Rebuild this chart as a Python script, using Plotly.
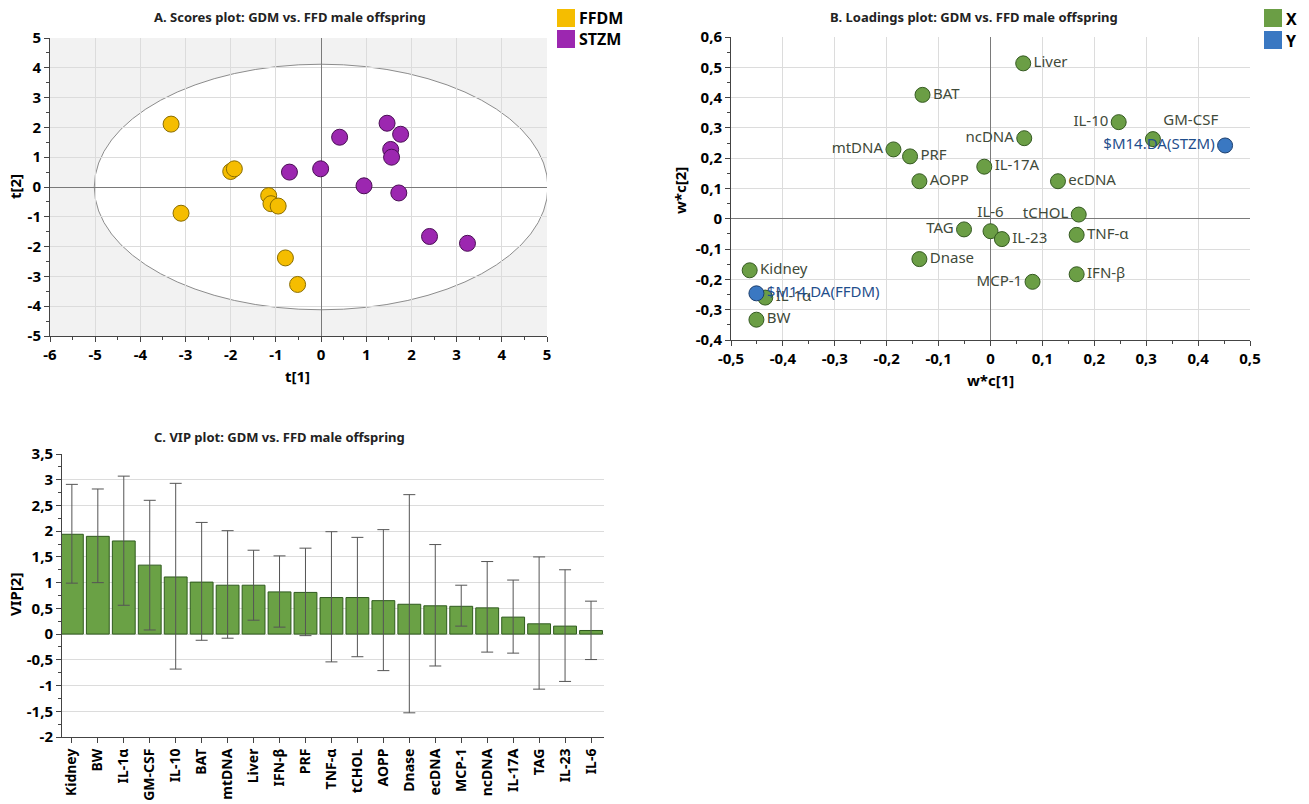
import plotly.graph_objects as go

FONT = "Noto Sans"

# ---------------- Panel A: scores ----------------
ffdm_t1 = [-3.32, -3.10, -2.00, -1.92, -1.16, -1.11, -0.95, -0.79, -0.52]
ffdm_t2 = [2.11, -0.88, 0.52, 0.61, -0.29, -0.56, -0.64, -2.38, -3.27]
stzm_t1 = [-0.70, -0.01, 0.41, 0.95, 1.46, 1.76, 1.54, 1.56, 1.72, 2.40, 3.24]
stzm_t2 = [0.50, 0.61, 1.67, 0.04, 2.14, 1.77, 1.26, 1.00, -0.20, -1.66, -1.89]
ellipse_a = 5.02
ellipse_b = 4.12
a_xticks = [-6, -5, -4, -3, -2, -1, 0, 1, 2, 3, 4, 5]
a_xlabels = ["-6", "-5", "-4", "-3", "-2", "-1", "0", "1", "2", "3", "4", "5"]
a_yticks = [-5, -4, -3, -2, -1, 0, 1, 2, 3, 4, 5]
a_ylabels = ["-5", "-4", "-3", "-2", "-1", "0", "1", "2", "3", "4", "5"]
a_groups = ["FFDM", "STZM"]

# ---------------- Panel B: loadings ----------------
x_names = ["Liver", "BAT", "IL-10", "GM-CSF", "ncDNA", "mtDNA", "PRF", "IL-17A",
           "AOPP", "ecDNA", "tCHOL", "IL-6", "TAG", "IL-23", "TNF-α", "Dnase",
           "Kidney", "IFN-β", "MCP-1", "IL-1α", "BW"]
x_w1 = [0.063, -0.131, 0.247, 0.313, 0.065, -0.187, -0.155, -0.012,
        -0.137, 0.130, 0.170, 0.000, -0.051, 0.022, 0.166, -0.137,
        -0.464, 0.166, 0.081, -0.434, -0.451]
x_w2 = [0.513, 0.409, 0.319, 0.263, 0.266, 0.229, 0.206, 0.172,
        0.124, 0.124, 0.014, -0.041, -0.035, -0.067, -0.053, -0.133,
        -0.170, -0.183, -0.208, -0.260, -0.333]
x_pos = ["middle right", "middle right", "middle left", "top right", "middle left",
         "middle left", "middle right", "middle right", "middle right", "middle right",
         "middle left", "top center", "middle left", "middle right", "middle right",
         "middle right", "middle right", "middle right", "middle left", "middle right",
         "middle right"]
y_names = ["$M14.DA(STZM)", "$M14.DA(FFDM)"]
y_w1 = [0.452, -0.451]
y_w2 = [0.242, -0.246]
y_pos = ["middle left", "middle right"]
b_xticks = [-0.5, -0.4, -0.3, -0.2, -0.1, 0, 0.1, 0.2, 0.3, 0.4, 0.5]
b_xlabels = ["-0,5", "-0,4", "-0,3", "-0,2", "-0,1", "0", "0,1", "0,2", "0,3", "0,4", "0,5"]
b_yticks = [-0.4, -0.3, -0.2, -0.1, 0, 0.1, 0.2, 0.3, 0.4, 0.5, 0.6]
b_ylabels = ["-0,4", "-0,3", "-0,2", "-0,1", "0", "0,1", "0,2", "0,3", "0,4", "0,5", "0,6"]
b_groups = ["X", "Y"]

# ---------------- Panel C: VIP ----------------
vip_names = ["Kidney", "BW", "IL-1α", "GM-CSF", "IL-10", "BAT", "mtDNA", "Liver",
             "IFN-β", "PRF", "TNF-α", "tCHOL", "AOPP", "Dnase", "ecDNA", "MCP-1",
             "ncDNA", "IL-17A", "TAG", "IL-23", "IL-6"]
vip_vals = [1.94, 1.90, 1.81, 1.34, 1.11, 1.01, 0.95, 0.95, 0.82, 0.81, 0.71,
            0.71, 0.65, 0.58, 0.55, 0.54, 0.51, 0.33, 0.20, 0.155, 0.07]
vip_hi = [2.91, 2.82, 3.07, 2.60, 2.93, 2.17, 2.01, 1.63, 1.52, 1.67, 1.99,
          1.88, 2.03, 2.71, 1.74, 0.95, 1.41, 1.05, 1.50, 1.25, 0.64]
vip_lo = [0.99, 1.00, 0.56, 0.08, -0.68, -0.12, -0.08, 0.27, 0.135, -0.03, -0.54,
          -0.44, -0.71, -1.53, -0.62, 0.155, -0.35, -0.37, -1.07, -0.92, -0.495]
c_yticks = [-2, -1.5, -1, -0.5, 0, 0.5, 1, 1.5, 2, 2.5, 3, 3.5]
c_ylabels = ["-2", "-1,5", "-1", "-0,5", "0", "0,5", "1", "1,5", "2", "2,5", "3", "3,5"]

YELLOW = "#F5BD00"
PURPLE = "#9C27B0"
GREEN = "#6B9E45"
BLUE = "#3A78C2"
BARGREEN = "#6AA145"

W, H = 1309, 804


def px(x):
    return x / W


def py(y):
    return 1 - y / H


fig = go.Figure()

# Panel A
fig.add_trace(go.Scatter(x=ffdm_t1, y=ffdm_t2, mode="markers", name=a_groups[0], xaxis="x", yaxis="y",
                         marker=dict(size=16, color=YELLOW, line=dict(color="#8a6d00", width=1)),
                         showlegend=False))
fig.add_trace(go.Scatter(x=stzm_t1, y=stzm_t2, mode="markers", name=a_groups[1], xaxis="x", yaxis="y",
                         marker=dict(size=16, color=PURPLE, line=dict(color="#4a0f55", width=1)),
                         showlegend=False))

# Panel B
fig.add_trace(go.Scatter(x=x_w1, y=x_w2, text=x_names, textposition=x_pos, mode="markers+text",
                         name=b_groups[0], xaxis="x2", yaxis="y2",
                         textfont=dict(family=FONT, size=15, color="#3f4a3a"),
                         marker=dict(size=15, color=GREEN, line=dict(color="#355a22", width=1)),
                         showlegend=False))
fig.add_trace(go.Scatter(x=y_w1, y=y_w2, text=y_names, textposition=y_pos, mode="markers+text",
                         name=b_groups[1], xaxis="x2", yaxis="y2",
                         textfont=dict(family=FONT, size=15, color="#1F4E8C"),
                         marker=dict(size=15, color=BLUE, line=dict(color="#1d3f6e", width=1)),
                         showlegend=False))

# Panel C
err_plus = [h - v for h, v in zip(vip_hi, vip_vals)]
err_minus = [v - l for v, l in zip(vip_vals, vip_lo)]
fig.add_trace(go.Bar(x=vip_names, y=vip_vals, xaxis="x3", yaxis="y3",
                     marker=dict(color=BARGREEN, line=dict(color="#2f5a1e", width=1)),
                     error_y=dict(type="data", array=err_plus, arrayminus=err_minus,
                                  color="#555555", thickness=1, width=6),
                     showlegend=False))

tickfont = dict(family=FONT, size=15, color="black", weight="bold")
grid = "#dcdcdc"

common = dict(showgrid=True, gridcolor=grid, gridwidth=1, showline=True, linecolor="#444444",
              linewidth=1, ticks="outside", ticklen=5, tickcolor="#444444", tickfont=tickfont,
              mirror=False, automargin=False)


def ann(text, x, y, size=15, angle=0, color="black", xanchor="center"):
    return dict(text=text, xref="paper", yref="paper", x=px(x), y=py(y), showarrow=False,
                xanchor=xanchor, yanchor="middle", textangle=angle,
                font=dict(family=FONT, size=size, color=color, weight="bold"))


def square(x0, y0, color, size=18):
    return dict(type="rect", xref="paper", yref="paper", x0=px(x0), x1=px(x0 + size),
                y0=py(y0 + size), y1=py(y0), fillcolor=color, line=dict(width=0), layer="above")


fig.update_layout(
    width=W, height=H,
    margin=dict(l=0, r=0, t=0, b=0),
    paper_bgcolor="white",
    plot_bgcolor="white",
    font=dict(family=FONT),
    showlegend=False,
    xaxis=dict(domain=[px(50), px(547)], range=[-6, 5], tickvals=a_xticks, ticktext=a_xlabels,
               zeroline=True, zerolinecolor="#7a7a7a", zerolinewidth=1,
               minor=dict(dtick=0.5, ticks="outside", ticklen=3, tickcolor="#444444", showgrid=False),
               anchor="y", **common),
    yaxis=dict(domain=[py(336), py(38)], range=[-5, 5], tickvals=a_yticks, ticktext=a_ylabels,
               zeroline=True, zerolinecolor="#7a7a7a", zerolinewidth=1,
               minor=dict(dtick=0.5, ticks="outside", ticklen=3, tickcolor="#444444", showgrid=False),
               anchor="x", **common),
    xaxis2=dict(domain=[px(731), px(1250)], range=[-0.5, 0.5], tickvals=b_xticks, ticktext=b_xlabels,
                zeroline=True, zerolinecolor="#7a7a7a", zerolinewidth=1,
                minor=dict(dtick=0.05, ticks="outside", ticklen=3, tickcolor="#444444", showgrid=False),
                anchor="y2", **common),
    yaxis2=dict(domain=[py(340), py(37)], range=[-0.4, 0.6], tickvals=b_yticks, ticktext=b_ylabels,
                zeroline=True, zerolinecolor="#7a7a7a", zerolinewidth=1,
                minor=dict(dtick=0.05, ticks="outside", ticklen=3, tickcolor="#444444", showgrid=False),
                anchor="x2", **common),
    xaxis3=dict(domain=[px(62), px(604)], range=[-0.38, 20.5], anchor="y3", tickangle=-90,
                **{**common, "showgrid": False,
                   "tickfont": dict(family=FONT, size=14, color="black", weight="bold")}),
    yaxis3=dict(domain=[py(737), py(454)], range=[-2, 3.5], tickvals=c_yticks, ticktext=c_ylabels,
                zeroline=False,
                minor=dict(dtick=0.25, ticks="outside", ticklen=3, tickcolor="#444444", showgrid=False),
                anchor="x3", **common),
    bargap=0.12,
    shapes=[
        dict(type="rect", xref="x domain", yref="y domain", x0=0, x1=1, y0=0, y1=1,
             fillcolor="#f2f2f2", line=dict(width=0), layer="below"),
        dict(type="circle", xref="x", yref="y", x0=-ellipse_a, x1=ellipse_a, y0=-ellipse_b, y1=ellipse_b,
             fillcolor="white", line=dict(color="#8c8c8c", width=1), layer="below"),
        square(557, 9, YELLOW),
        square(557, 30, PURPLE),
        square(1264, 9, GREEN),
        square(1264, 31, BLUE),
    ],
    annotations=[
        ann("A. Scores plot: GDM vs. FFD male offspring", 290, 17, size=13, color="#222222"),
        ann("B. Loadings plot: GDM vs. FFD male offspring", 974, 17, size=13, color="#222222"),
        ann("C. VIP plot: GDM vs. FFD male offspring", 279, 437, size=13, color="#222222"),
        ann("t[1]", 297, 376),
        ann("t[2]", 15, 187, angle=-90),
        ann("w*c[1]", 990, 380),
        ann("w*c[2]", 680, 190, angle=-90),
        ann("VIP[2]", 15, 595, angle=-90),
        ann(a_groups[0], 577, 18, size=16, xanchor="left"),
        ann(a_groups[1], 577, 39, size=16, xanchor="left"),
        ann(b_groups[0], 1284, 19, size=16, xanchor="left"),
        ann(b_groups[1], 1284, 41, size=16, xanchor="left"),
    ],
)

fig.write_html("out.html", config={"displayModeBar": False},
               post_script="document.body.style.margin='0px';")
